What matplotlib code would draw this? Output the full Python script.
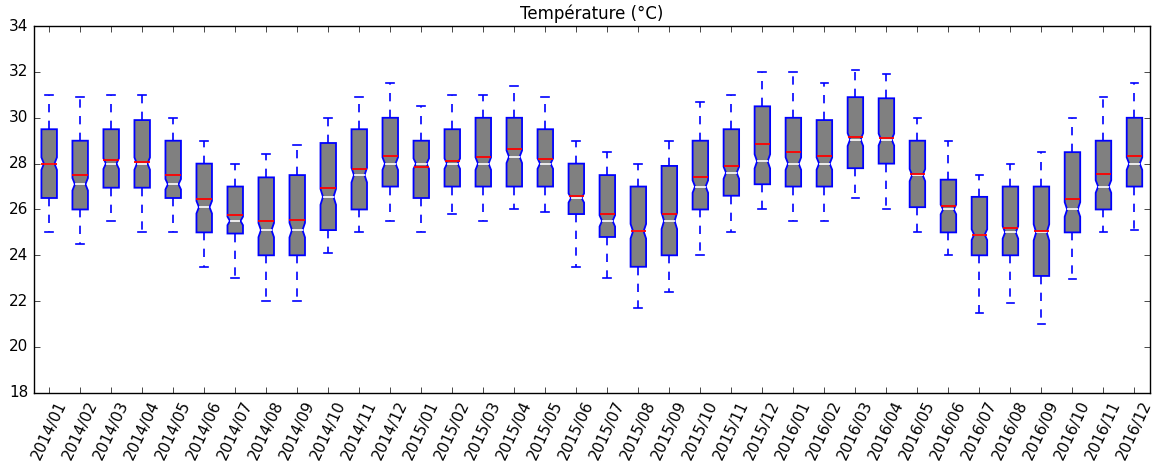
import numpy as np
import matplotlib
matplotlib.use('Agg')
from matplotlib import pyplot as plt

# months shown on the x axis
months = [str(y) + "/" + "%02d" % m for y in (2014, 2015, 2016) for m in range(1, 13)]

# values (°C)
whis_lo = [25.0, 24.5, 25.5, 25.0, 25.0, 23.5, 23.0, 22.0, 22.0, 24.1, 25.0, 25.5,
           25.0, 25.8, 25.5, 26.0, 25.9, 23.5, 23.0, 21.7, 22.4, 24.0, 25.0, 26.0,
           25.5, 25.5, 26.5, 26.0, 25.0, 24.0, 21.5, 21.9, 21.0, 22.95, 25.0, 25.1]
q1 = [26.5, 26.0, 26.95, 26.95, 26.5, 25.0, 24.95, 24.0, 24.0, 25.1, 26.0, 27.0,
      26.5, 27.0, 27.0, 27.0, 27.0, 25.8, 24.8, 23.5, 24.0, 26.0, 26.6, 27.1,
      27.0, 27.0, 27.8, 28.0, 26.1, 25.0, 24.0, 24.0, 23.1, 25.0, 26.0, 27.0]
medians = [28.0, 27.1, 28.0, 28.0, 27.1, 26.1, 25.5, 25.1, 25.1, 26.55, 27.5, 28.0,
           28.0, 28.0, 28.0, 28.3, 28.0, 26.5, 25.5, 25.05, 25.5, 27.0, 27.6, 28.1,
           28.0, 28.0, 29.05, 29.05, 27.5, 26.0, 24.9, 25.0, 25.0, 26.0, 27.0, 28.0]
q3 = [29.5, 29.0, 29.5, 29.9, 29.0, 28.0, 27.0, 27.4, 27.5, 28.9, 29.5, 30.0,
      29.0, 29.5, 30.0, 30.0, 29.5, 28.0, 27.5, 27.0, 27.9, 29.0, 29.5, 30.5,
      30.0, 29.9, 30.9, 30.85, 29.0, 27.3, 26.55, 27.0, 27.0, 28.5, 29.0, 30.0]
whis_hi = [31.0, 30.9, 31.0, 31.0, 30.0, 29.0, 28.0, 28.4, 28.8, 30.0, 30.9, 31.5,
           30.5, 31.0, 31.0, 31.4, 30.9, 29.0, 28.5, 28.0, 29.0, 30.7, 31.0, 32.0,
           32.0, 31.5, 32.1, 31.9, 30.0, 29.0, 27.5, 28.0, 28.5, 30.0, 30.9, 31.5]
means = [28.0, 27.5, 28.15, 28.05, 27.5, 26.45, 25.75, 25.5, 25.55, 26.95, 27.75, 28.35,
         27.85, 28.1, 28.3, 28.65, 28.2, 26.6, 25.8, 25.05, 25.8, 27.4, 27.9, 28.85,
         28.5, 28.35, 29.15, 29.1, 27.55, 26.15, 24.9, 25.2, 25.05, 26.45, 27.55, 28.35]
n_obs = 300  # readings per month, only used for the notch size

stats = []
for i in range(len(months)):
    iqr = q3[i] - q1[i]
    ci = 1.57 * iqr / np.sqrt(n_obs)
    stats.append(dict(label=months[i], whislo=whis_lo[i], q1=q1[i], med=medians[i],
                      q3=q3[i], whishi=whis_hi[i], mean=means[i],
                      cilo=medians[i] - ci, cihi=medians[i] + ci, fliers=[]))

plt.style.use('classic')
fig = plt.figure(figsize=(11.61, 4.66), dpi=100, facecolor='white')
ax = fig.add_axes([0.029, 0.157, 0.9615, 0.787])

positions = list(range(1, len(months) + 1))
bp = ax.bxp(stats, positions=positions, widths=0.5,
            shownotches=True, showmeans=True, meanline=True, patch_artist=True,
            boxprops=dict(facecolor='gray', edgecolor='blue', linewidth=1.3),
            whiskerprops=dict(color='blue', linestyle='--', linewidth=1.2),
            capprops=dict(color='blue', linewidth=1.2),
            medianprops=dict(color='white', linewidth=1.2),
            meanprops=dict(color='red', linestyle='-', linewidth=1.3))

# shallower notches, like the old matplotlib look
for pos, box, med in zip(positions, bp['boxes'], bp['medians']):
    v = box.get_path().vertices
    for k in range(len(v)):
        if abs(v[k, 0] - (pos - 0.125)) < 1e-9:
            v[k, 0] = pos - 0.17
        elif abs(v[k, 0] - (pos + 0.125)) < 1e-9:
            v[k, 0] = pos + 0.17
    med.set_xdata([pos - 0.17, pos + 0.17])

ax.set_xlim(0.5, len(months) + 0.5)
ax.set_ylim(18, 34)
ax.set_yticks(range(18, 35, 2))
ax.set_xticks(positions)
ax.set_xticklabels(months, rotation=65, fontsize=11)
ax.tick_params(axis='y', labelsize=11)
ax.set_title("Température (°C)", fontsize=12)

fig.savefig("out.png", dpi=100, facecolor='white')
